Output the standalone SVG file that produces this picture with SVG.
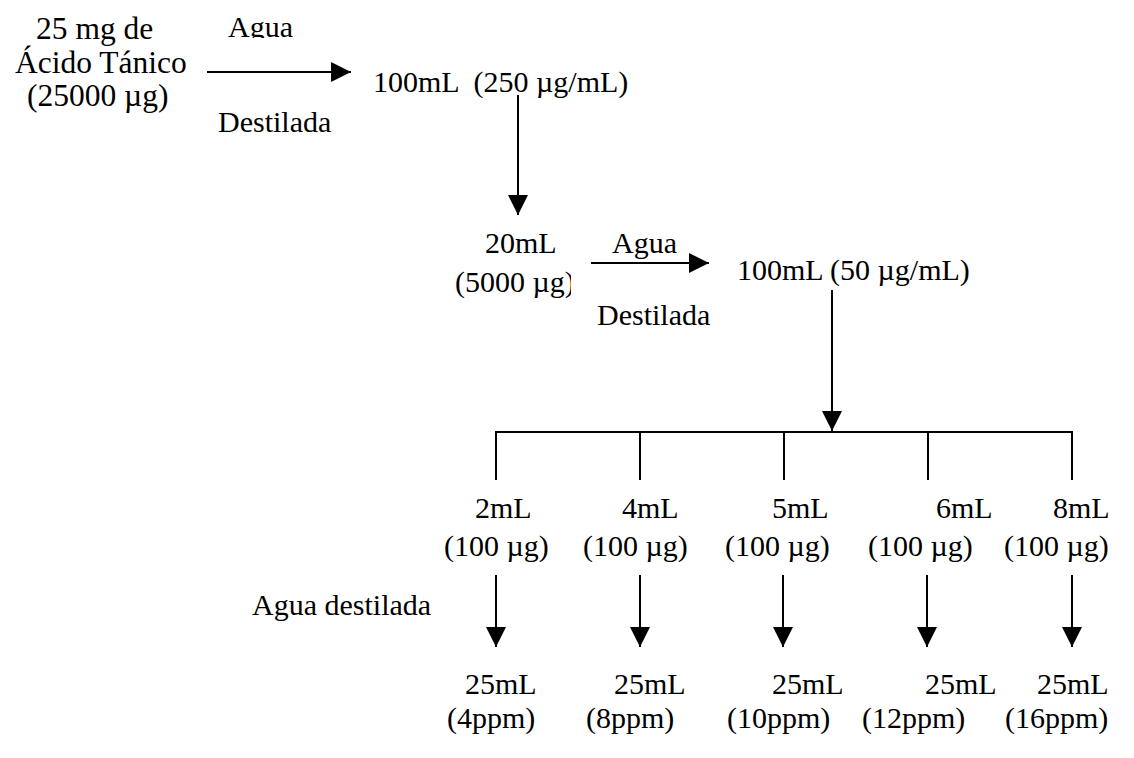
<svg xmlns="http://www.w3.org/2000/svg" width="1134" height="758" viewBox="0 0 1134 758">
<style>
text{font-family:"Liberation Serif","Times New Roman",serif;font-size:30px;fill:#000}
.big{font-size:31.5px}
.ln{stroke:#000;stroke-width:2;fill:none}
</style>
<defs>
<marker id="ah" viewBox="0 0 20 20" markerWidth="20" markerHeight="20" markerUnits="userSpaceOnUse" refX="20" refY="10" orient="auto">
<path d="M0,0 L20,10 L0,20 z" fill="#000"/>
</marker>
<clipPath id="clipAgua1"><rect x="200" y="0" width="120" height="38"/></clipPath>
<clipPath id="clip5000"><rect x="440" y="260" width="131" height="50"/></clipPath>
</defs>
<rect width="1134" height="758" fill="#fff"/>
<g id="connectors">
<line class="ln" x1="207" y1="72" x2="351" y2="72" marker-end="url(#ah)"/>
<line class="ln" x1="518" y1="95" x2="518" y2="215" marker-end="url(#ah)"/>
<line class="ln" x1="591" y1="263" x2="709" y2="263" marker-end="url(#ah)"/>
<line class="ln" x1="832" y1="290" x2="832" y2="431" marker-end="url(#ah)"/>
<line class="ln" x1="495" y1="432" x2="1073" y2="432"/>
<line class="ln" x1="496" y1="432" x2="496" y2="480"/>
<line class="ln" x1="640" y1="432" x2="640" y2="480"/>
<line class="ln" x1="784" y1="432" x2="784" y2="480"/>
<line class="ln" x1="928" y1="432" x2="928" y2="480"/>
<line class="ln" x1="1072" y1="432" x2="1072" y2="480"/>
<line class="ln" x1="496" y1="575" x2="496" y2="647" marker-end="url(#ah)"/>
<line class="ln" x1="640" y1="575" x2="640" y2="647" marker-end="url(#ah)"/>
<line class="ln" x1="783" y1="575" x2="783" y2="647" marker-end="url(#ah)"/>
<line class="ln" x1="927" y1="575" x2="927" y2="647" marker-end="url(#ah)"/>
<line class="ln" x1="1072" y1="575" x2="1072" y2="647" marker-end="url(#ah)"/>
</g>
<g id="n-source">
<text class="big" x="36" y="39">25 mg de</text>
<text class="big" x="15" y="73">Ácido Tánico</text>
<text class="big" x="27" y="106">(25000 µg)</text>
</g>
<g id="l-agua1">
<text x="228" y="37" clip-path="url(#clipAgua1)">Agua</text>
<text x="218" y="132">Destilada</text>
</g>
<g id="n-100ml-250">
<text x="373" y="92" xml:space="preserve">100mL  (250 µg/mL)</text>
</g>
<g id="n-20ml">
<text x="485" y="253">20mL</text>
<text x="455" y="292" clip-path="url(#clip5000)">(5000 µg)</text>
</g>
<g id="l-agua2">
<text x="612" y="253">Agua</text>
<text x="597" y="325">Destilada</text>
</g>
<g id="n-100ml-50">
<text x="737" y="280">100mL (50 µg/mL)</text>
</g>
<g id="l-agua3">
<text x="252" y="615">Agua destilada</text>
</g>
<g id="n-a1"><text x="475" y="518">2mL</text><text x="444" y="556">(100 µg)</text></g>
<g id="n-a2"><text x="622" y="518">4mL</text><text x="583" y="556">(100 µg)</text></g>
<g id="n-a3"><text x="772" y="518">5mL</text><text x="725" y="556">(100 µg)</text></g>
<g id="n-a4"><text x="936" y="518">6mL</text><text x="868" y="556">(100 µg)</text></g>
<g id="n-a5"><text x="1053" y="518">8mL</text><text x="1004" y="556">(100 µg)</text></g>
<g id="n-b1"><text x="465" y="694">25mL</text><text x="447" y="728">(4ppm)</text></g>
<g id="n-b2"><text x="614" y="694">25mL</text><text x="586" y="728">(8ppm)</text></g>
<g id="n-b3"><text x="772" y="694">25mL</text><text x="727" y="728">(10ppm)</text></g>
<g id="n-b4"><text x="925" y="694">25mL</text><text x="862" y="728">(12ppm)</text></g>
<g id="n-b5"><text x="1037" y="694">25mL</text><text x="1005" y="728">(16ppm)</text></g>
</svg>
